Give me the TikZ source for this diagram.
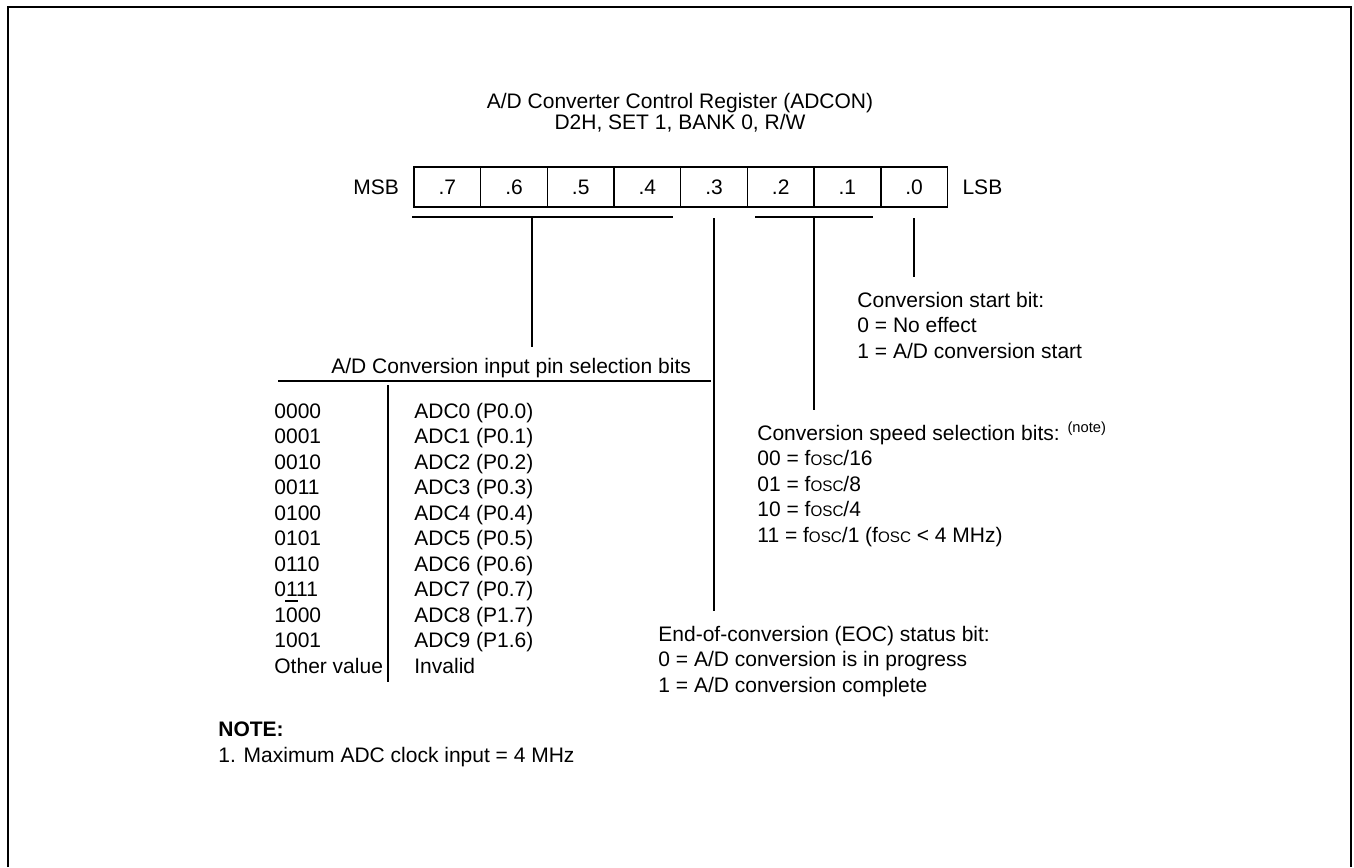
\documentclass[tikz,border=0pt]{standalone}
\usepackage{fontspec}
\setmainfont{Liberation Sans}
\usetikzlibrary{positioning}
\newcommand\fosc{f{\fontsize{7.6}{9}\selectfont OSC}}

\begin{document}
\begin{tikzpicture}[x=0.5pt,y=-0.5pt,
  font=\fontsize{10.5}{12.75}\selectfont,
  every node/.style={inner sep=0pt},
  txt/.style={anchor=base west},
  bitcell/.style={draw,line width=0.8pt,minimum width=33.33pt,minimum height=20pt}]
  \useasboundingbox (0,0) rectangle (1354,867);
  \draw[line width=1.15pt] (8,867) -- (8,7) -- (1351,7) -- (1351,867);

  % register
  \node[anchor=base] (ttl1) at (680,108.5) {A/D Converter Control Register (ADCON)};
  \node[anchor=base] (ttl2) at (680,129.5) {D2H, SET 1, BANK 0, R/W};
  \foreach \b [count=\i from 0] in {7,6,5,4,3,2,1,0}
    \node[bitcell] (b\b) at ({414+66.67*(\i+0.5)},187) {.\b};
  \node[left=7pt of b7] (msb) {MSB};
  \node[right=7pt of b0] (lsb) {LSB};

  % brackets and leads
  \begin{scope}[line width=0.8pt]
    \draw (412,217) -- (673,217);
    \draw (755,217) -- (873,217);
    \coordinate (selb) at (532,217); \coordinate (sele) at (532,347);
    \coordinate (eocb) at (714,218); \coordinate (eoce) at (714,611);
    \coordinate (spdb) at (814,217); \coordinate (spde) at (814,410);
    \coordinate (stb) at (914,218);  \coordinate (ste) at (914,277);
    \draw (selb) -- (sele);
    \draw (eocb) -- (eoce);
    \draw (spdb) -- (spde);
    \draw (stb) -- (ste);
    \draw (278,381) -- (711,381);
    \draw (388,385) -- (388,682);
    \draw (285,601) -- (298,601);
  \end{scope}

  % pin selection table
  \node[txt] (seltl) at (331,373) {A/D Conversion input pin selection bits};
  \foreach \c/\a [count=\i from 0] in {0000/ADC0 (P0.0),0001/ADC1 (P0.1),
      0010/ADC2 (P0.2),0011/ADC3 (P0.3),0100/ADC4 (P0.4),0101/ADC5 (P0.5),
      0110/ADC6 (P0.6),0111/ADC7 (P0.7),1000/ADC8 (P1.7),1001/ADC9 (P1.6),
      Other value/Invalid} {
    \node[txt] (code\i) at (274,{418+25.5*\i}) {\c};
    \node[txt] (adc\i) at (414,{418+25.5*\i}) {\a};
  }

  % bit descriptions
  \foreach \t [count=\i from 0] in {Conversion start bit:,0 = No effect,
      1 = A/D conversion start}
    \node[txt] (st\i) at (857,{307+25.5*\i}) {\t};
  \foreach \t [count=\i from 0] in {Conversion speed selection bits: \textsuperscript{(note)},
      00 = \fosc/16,01 = \fosc/8,10 = \fosc/4,11 = \fosc/1 (\fosc{} < 4 MHz)}
    \node[txt] (sp\i) at (757,{440+25.5*\i}) {\t};
  \foreach \t [count=\i from 0] in {End-of-conversion (EOC) status bit:,
      0 = A/D conversion is in progress,1 = A/D conversion complete}
    \node[txt] (eoc\i) at (658,{641+25.5*\i}) {\t};

  % note
  \node[txt,font=\fontsize{10.5}{12.75}\selectfont\bfseries] (note) at (218,736) {NOTE:};
  \node[txt] (note1) at (218,762) {1. Maximum ADC clock input = 4 MHz};
\end{tikzpicture}
\end{document}
